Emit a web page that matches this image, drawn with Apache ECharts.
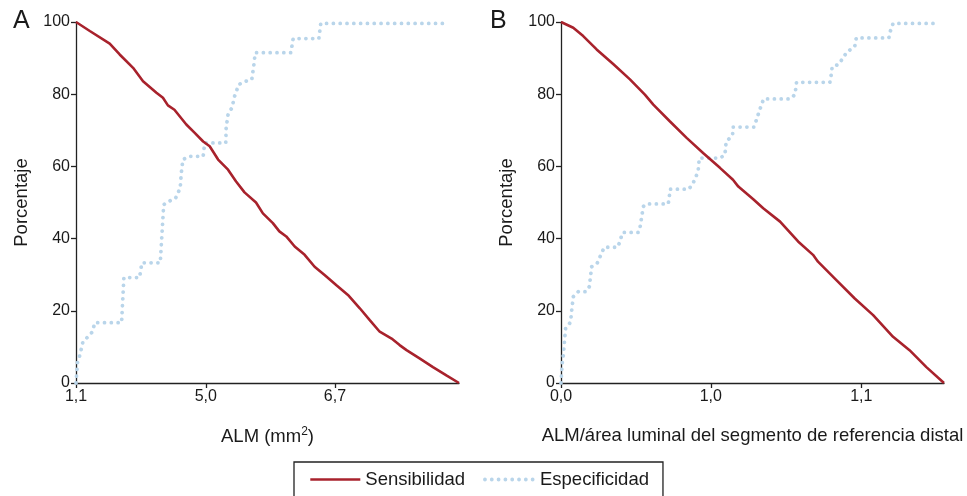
<!DOCTYPE html>
<html><head><meta charset="utf-8">
<script src="https://cdn.jsdelivr.net/npm/echarts@6/dist/echarts.min.js"></script>
<style>html,body{margin:0;padding:0;background:#fff}#c{width:967px;height:496px}</style>
</head><body><div id="c"></div>
<script>
// Panel A: x = normalized rank position of ALM cut-off (0..1)
const sensA = [[0,100],[0.036,97.5],[0.088,94],[0.114,91],[0.149,87.3],[0.175,83.6],[0.21,80.4],[0.227,79],[0.24,76.9],[0.257,75.7],[0.288,71.6],[0.31,69.3],[0.332,66.9],[0.349,65.6],[0.371,61.9],[0.397,59.1],[0.418,55.8],[0.44,52.8],[0.47,50],[0.488,47],[0.514,44.3],[0.531,42],[0.549,40.6],[0.571,37.8],[0.597,35.5],[0.623,32.2],[0.649,29.9],[0.68,27.1],[0.71,24.4],[0.741,20.7],[0.767,17.4],[0.793,14.2],[0.824,12.3],[0.845,10.5],[0.863,9.1],[0.897,6.8],[0.932,4.4],[0.967,2.1],[1,0]];
const specA = [[0,0],[0.004,5.8],[0.01,7.7],[0.014,9.5],[0.018,11.4],[0.031,12.8],[0.043,14.2],[0.049,16.7],[0.119,16.7],[0.125,29.2],[0.166,29.2],[0.172,33.3],[0.22,33.3],[0.229,49.4],[0.24,50.2],[0.26,51.2],[0.272,54],[0.275,58.2],[0.279,61.9],[0.297,62.8],[0.332,62.8],[0.336,66.5],[0.391,66.5],[0.392,70.7],[0.397,74.4],[0.407,76.2],[0.414,79.4],[0.425,82.7],[0.444,83.6],[0.459,84.1],[0.464,87.8],[0.468,91.5],[0.561,91.5],[0.567,95.4],[0.634,95.4],[0.639,99.6],[0.97,99.6]];
const xTickPosA = [0, 0.339, 0.676];
const xTickLabelsA = ['1,1', '5,0', '6,7'];

// Panel B
const sensB = [[0,100],[0.032,98.4],[0.058,96.1],[0.093,92.4],[0.137,88.3],[0.18,84.1],[0.219,79.9],[0.241,77.1],[0.284,72.5],[0.328,67.9],[0.371,63.7],[0.415,59.6],[0.449,56.3],[0.463,54.4],[0.502,50.9],[0.528,48.4],[0.572,44.7],[0.619,39.2],[0.658,35.5],[0.671,33.6],[0.719,28.5],[0.767,23.4],[0.815,18.8],[0.867,12.8],[0.91,9.1],[0.954,4.4],[1,0]];
const specB = [[0,0],[0.003,5.4],[0.006,7.7],[0.009,11.4],[0.012,15.1],[0.019,16],[0.025,16.9],[0.028,20.2],[0.032,23.9],[0.045,25.3],[0.065,25.3],[0.074,26.7],[0.08,32.2],[0.095,33.3],[0.102,35],[0.113,37.6],[0.148,37.6],[0.152,38.7],[0.161,41.7],[0.202,41.7],[0.206,42.9],[0.215,48.9],[0.223,49.6],[0.28,49.6],[0.283,51.9],[0.285,53.7],[0.334,53.7],[0.345,55.4],[0.358,58.6],[0.361,62.3],[0.415,62.3],[0.428,63.2],[0.431,66.7],[0.448,68.8],[0.449,70.9],[0.504,70.9],[0.509,72.5],[0.519,75.7],[0.529,78.7],[0.598,78.7],[0.611,79.9],[0.615,83.3],[0.702,83.3],[0.706,85.7],[0.708,87.6],[0.724,88.2],[0.737,90.1],[0.745,91.5],[0.767,93.3],[0.771,95.6],[0.856,95.6],[0.86,97.5],[0.867,99.6],[0.984,99.6]];
const xTickPosB = [0, 0.391, 0.784];
const xTickLabelsB = ['0,0', '1,0', '1,1'];

const seriesNames = ['Sensibilidad', 'Especificidad'];

const FONT = 'Liberation Sans, Arial, sans-serif';
const TXT = '#1a1a1a';
const RED = '#a8222c';
const BLUE = '#b9d5ea';
const DOTS = { color: BLUE, width: 3.8, type: [0.01, 6.8], cap: 'round' };

function xAxis(idx, pos, labels, name) {
  return {
    type: 'value', gridIndex: idx, min: 0, max: 1,
    name: name, nameLocation: 'middle', nameGap: 43,
    nameTextStyle: { fontFamily: FONT, fontSize: 18.5, color: TXT,
      rich: { sup: { fontFamily: FONT, fontSize: 12, color: TXT, verticalAlign: 'top', padding: [0,0,9,0] } } },
    axisLine: { show: true, onZero: false, lineStyle: { color: '#222', width: 1.3 } },
    axisTick: { show: true, length: 5, lineStyle: { color: '#222', width: 1.3 }, customValues: pos },
    axisLabel: { customValues: pos, fontFamily: FONT, fontSize: 16, color: TXT, margin: 6,
      formatter: v => { const i = pos.findIndex(p => Math.abs(p - v) < 1e-6); return i >= 0 ? labels[i] : ''; } },
    splitLine: { show: false }
  };
}
function yAxis(idx) {
  return {
    type: 'value', gridIndex: idx, min: 0, max: 100, interval: 20,
    name: 'Porcentaje', nameLocation: 'middle', nameGap: 45, nameRotate: 90,
    nameTextStyle: { fontFamily: FONT, fontSize: 18.5, color: TXT },
    axisLine: { show: true, lineStyle: { color: '#222', width: 1.3 } },
    axisTick: { show: true, length: 5, lineStyle: { color: '#222', width: 1.3 } },
    axisLabel: { fontFamily: FONT, fontSize: 16, color: TXT, margin: 6 },
    splitLine: { show: false }
  };
}
function sens(idx, data) {
  return { name: seriesNames[0], type: 'line', xAxisIndex: idx, yAxisIndex: idx, data: data,
    showSymbol: false, symbol: 'none', silent: true, z: 3,
    lineStyle: { color: RED, width: 2.6 }, itemStyle: { color: RED } };
}
function spec(idx, data) {
  return { name: seriesNames[1], type: 'line', xAxisIndex: idx, yAxisIndex: idx, data: data,
    showSymbol: false, symbol: 'none', silent: true, z: 2,
    lineStyle: DOTS, itemStyle: { color: BLUE } };
}

const chart = echarts.init(document.getElementById('c'), null, { renderer: 'canvas' });
chart.setOption({
  animation: false,
  backgroundColor: '#fff',
  title: [
    { text: 'A', left: 8, top: 4, textStyle: { fontFamily: FONT, fontSize: 25, fontWeight: 'normal', color: TXT } },
    { text: 'B', left: 485, top: 4, textStyle: { fontFamily: FONT, fontSize: 25, fontWeight: 'normal', color: TXT } }
  ],
  grid: [
    { left: 76, right: 508, top: 22, bottom: 113 },
    { left: 561, right: 23, top: 22, bottom: 113 }
  ],
  xAxis: [
    xAxis(0, xTickPosA, xTickLabelsA, 'ALM (mm{sup|2})'),
    xAxis(1, xTickPosB, xTickLabelsB, 'ALM/área luminal del segmento de referencia distal')
  ],
  yAxis: [yAxis(0), yAxis(1)],
  legend: {
    data: [
      { name: seriesNames[0], lineStyle: { color: RED, width: 2.6 } },
      { name: seriesNames[1], lineStyle: DOTS }
    ],
    left: 294, top: 462, orient: 'horizontal',
    itemWidth: 50, itemHeight: 14, itemGap: 18,
    padding: [8, 14, 8, 15],
    borderColor: '#222', borderWidth: 1.3, borderRadius: 0,
    itemStyle: { opacity: 0 },
    textStyle: { fontFamily: FONT, fontSize: 18.5, color: TXT },
    selectedMode: false
  },
  series: [sens(0, sensA), spec(0, specA), sens(1, sensB), spec(1, specB)]
});
</script></body></html>
